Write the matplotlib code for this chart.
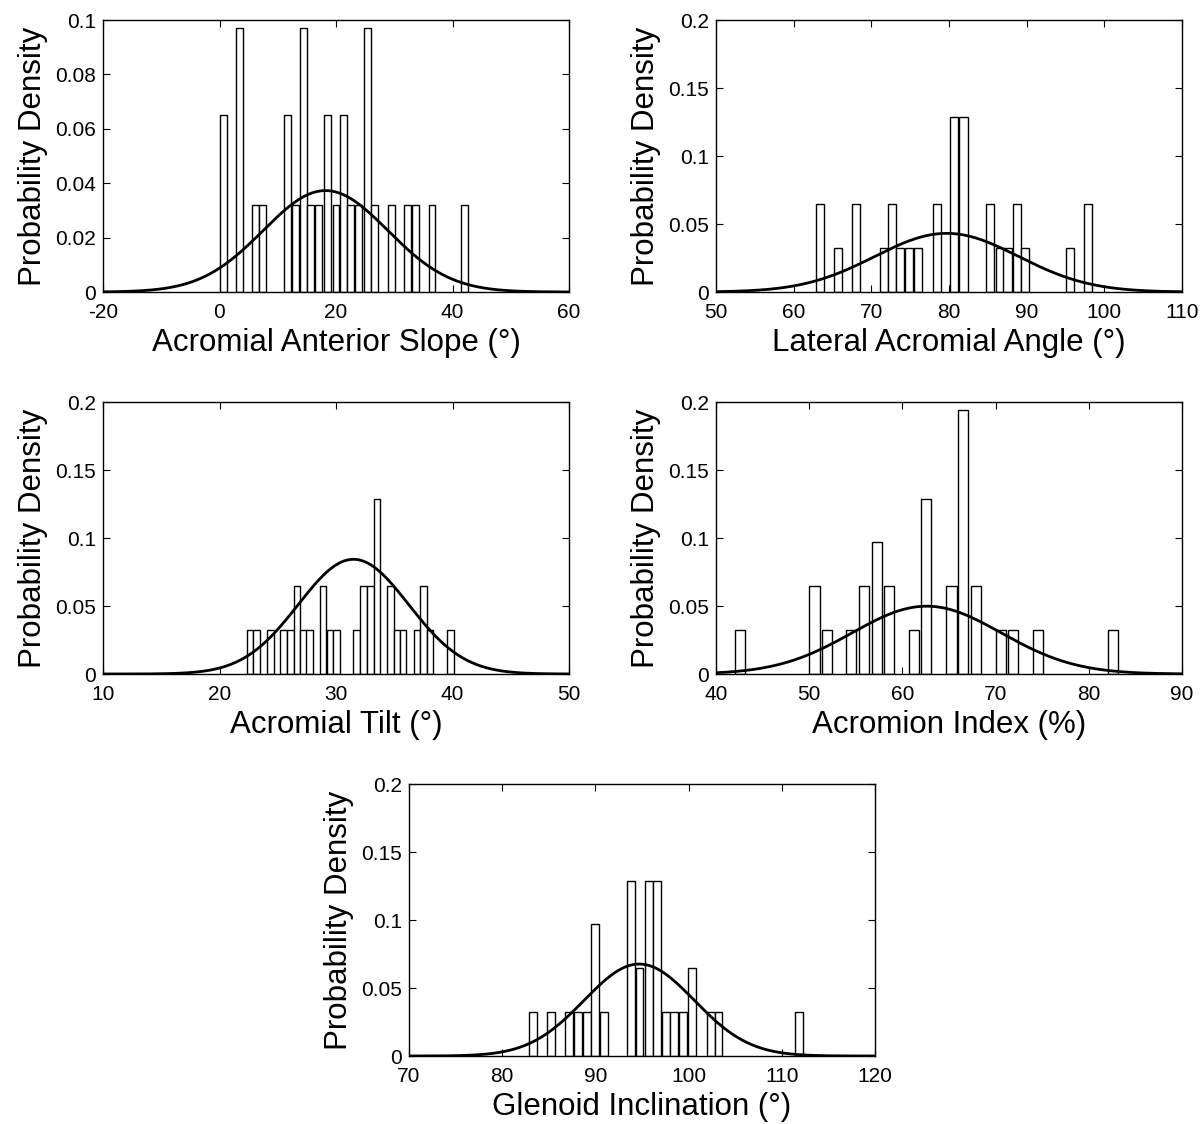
import numpy as np
import matplotlib.pyplot as plt
from matplotlib.ticker import FuncFormatter

plt.rcParams['font.family'] = ['Liberation Sans', 'DejaVu Sans']
plt.rcParams['axes.unicode_minus'] = False

# Acromial Anterior Slope
slope_x = [0.65, 3.38, 6.15, 7.39, 11.66, 13.09, 14.41, 15.70, 16.99, 18.54, 20.0,
           21.24, 22.55, 23.79, 25.42, 26.62, 29.51, 32.33, 33.62, 36.48, 41.99]
slope_y = [0.065, 0.097, 0.032, 0.032, 0.065, 0.032, 0.097, 0.032, 0.032, 0.065, 0.032,
           0.065, 0.032, 0.032, 0.097, 0.032, 0.032, 0.032, 0.032, 0.032, 0.032]

# Lateral Acromial Angle
angle_x = [63.44, 65.74, 68.02, 71.66, 72.65, 73.72, 74.88, 76.02, 78.41, 80.61,
           81.87, 85.23, 86.52, 87.53, 88.76, 89.79, 95.61, 97.9]
angle_y = [0.065, 0.032, 0.065, 0.032, 0.065, 0.032, 0.032, 0.032, 0.065, 0.129,
           0.129, 0.065, 0.032, 0.032, 0.065, 0.032, 0.032, 0.065]

# Acromial Tilt
tilt_x = [22.62, 23.19, 24.39, 25.51, 26.09, 26.66, 27.23, 27.71, 28.90, 29.47, 30.04,
          31.74, 32.34, 32.94, 33.51, 34.69, 35.23, 35.75, 36.95, 37.50, 38.07, 39.82]
tilt_y = [0.032, 0.032, 0.032, 0.032, 0.032, 0.065, 0.032, 0.032, 0.065, 0.032, 0.032,
          0.032, 0.065, 0.065, 0.129, 0.065, 0.032, 0.032, 0.032, 0.065, 0.032, 0.032]

# Acromion Index
index_x = [42.61, 50.57, 51.94, 54.52, 55.88, 57.28, 58.57, 61.26, 62.51, 65.27,
           66.53, 67.88, 70.57, 71.83, 74.52, 82.55]
index_y = [0.032, 0.065, 0.032, 0.032, 0.065, 0.097, 0.065, 0.032, 0.129, 0.065,
           0.194, 0.065, 0.032, 0.032, 0.032, 0.032]

# Glenoid Inclination
glen_x = [83.30, 85.20, 87.15, 88.10, 89.05, 89.93, 90.93, 93.78, 94.73, 95.72,
          96.58, 97.60, 98.44, 99.43, 100.41, 102.38, 103.21, 111.81]
glen_y = [0.032, 0.032, 0.032, 0.032, 0.032, 0.097, 0.032, 0.129, 0.065, 0.129,
          0.129, 0.032, 0.032, 0.032, 0.065, 0.032, 0.032, 0.032]

# fitted normal (mean, sd)
fits = [(18.2, 10.7), (79.7, 9.25), (31.5, 4.73), (62.6, 8.0), (94.7, 5.9)]

labels = ['Acromial Anterior Slope (°)', 'Lateral Acromial Angle (°)',
          'Acromial Tilt (°)', 'Acromion Index (%)', 'Glenoid Inclination (°)']
xlims = [(-20, 60), (50, 110), (10, 50), (40, 90), (70, 120)]
xsteps = [20, 10, 10, 10, 10]
ylims = [0.1, 0.2, 0.2, 0.2, 0.2]
ysteps = [0.02, 0.05, 0.05, 0.05, 0.05]
widths = [1.2, 1.05, 0.56, 1.08, 0.85]
data = [(slope_x, slope_y), (angle_x, angle_y), (tilt_x, tilt_y),
        (index_x, index_y), (glen_x, glen_y)]

W, H = 1203, 1124
fig = plt.figure(figsize=(W / 100, H / 100), dpi=100)
# axes boxes in pixels: left, top
boxes = [(103, 20), (716, 20), (103, 402), (716, 402), (409, 784)]
aw, ah = 466, 272

fmt = FuncFormatter(lambda v, p: '%g' % round(v, 4))

for i in range(5):
    l, t = boxes[i]
    ax = fig.add_axes([l / W, (H - t - ah) / H, aw / W, ah / H])
    xs, ys = data[i]
    ax.bar(xs, ys, width=widths[i], facecolor='white', edgecolor='black',
           linewidth=1.0, zorder=2)
    mu, sd = fits[i]
    xx = np.linspace(xlims[i][0], xlims[i][1], 300)
    yy = np.exp(-0.5 * ((xx - mu) / sd) ** 2) / (sd * np.sqrt(2 * np.pi))
    ax.plot(xx, yy, color='black', linewidth=2.0, zorder=3)
    ax.set_xlim(*xlims[i])
    ax.set_ylim(0, ylims[i])
    ax.set_xticks(np.arange(xlims[i][0], xlims[i][1] + 0.1, xsteps[i]))
    ax.set_yticks(np.arange(0, ylims[i] + 1e-9, ysteps[i]))
    ax.xaxis.set_major_formatter(fmt)
    ax.yaxis.set_major_formatter(fmt)
    ax.tick_params(direction='in', top=True, right=True, length=5, width=0.8,
                   labelsize=15)
    ax.tick_params(axis='x', pad=8)
    ax.tick_params(axis='y', pad=5)
    for s in ax.spines.values():
        s.set_linewidth(1.0)
    ax.set_xlabel(labels[i], fontsize=22.5, labelpad=4)
    ax.set_ylabel('Probability Density', fontsize=22.5, labelpad=5)

fig.savefig('out.png', dpi=100)
